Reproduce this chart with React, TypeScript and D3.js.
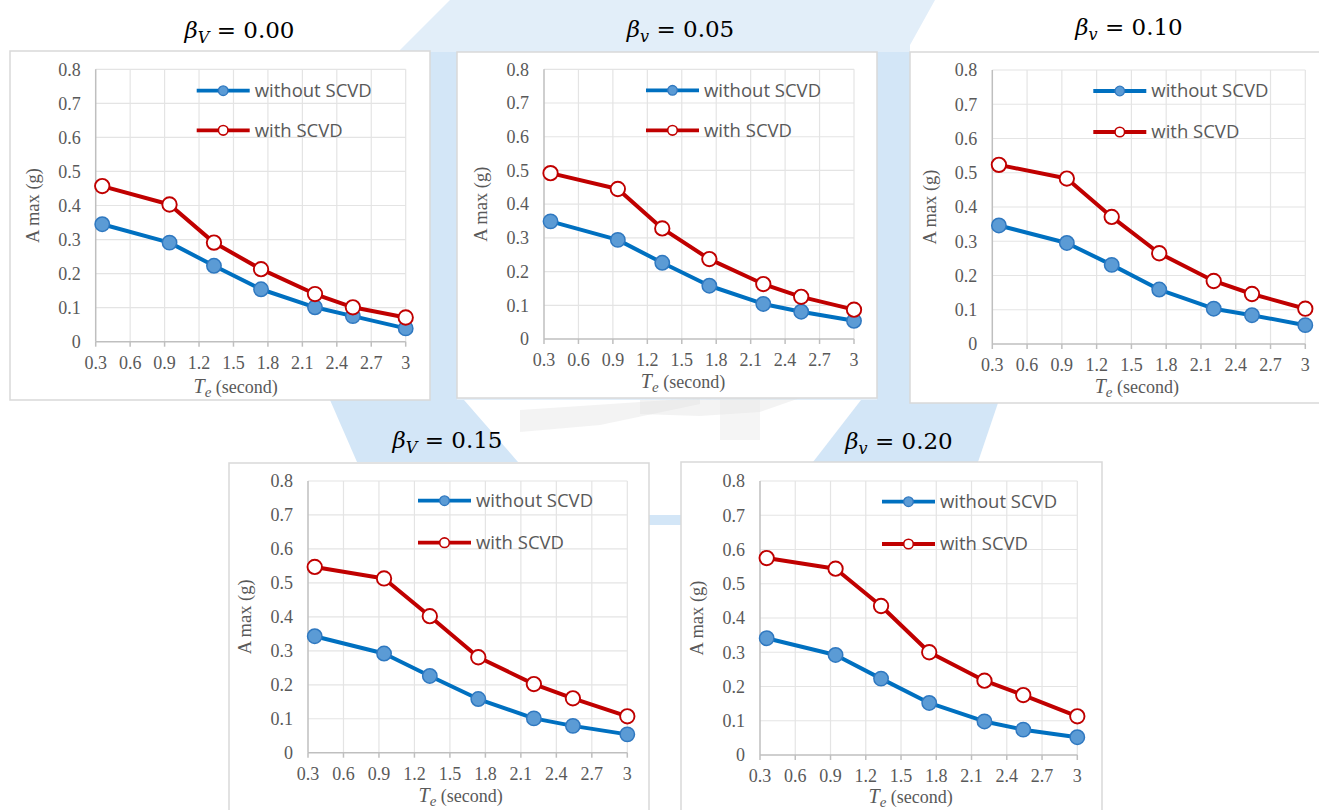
import React from "react";
import * as d3 from "d3";

// ---------- data ----------
const periods = [0.357, 0.943, 1.33, 1.74, 2.21, 2.54, 3.0];
const titleValues = ["0.00", "0.05", "0.10", "0.15", "0.20"];
const titleSubs = ["V", "v", "v", "V", "v"];
const seriesNames = ["without SCVD", "with SCVD"];
const withoutSCVD = [
  [0.345, 0.291, 0.223, 0.154, 0.101, 0.075, 0.039],
  [0.349, 0.294, 0.226, 0.158, 0.104, 0.081, 0.054],
  [0.346, 0.295, 0.231, 0.159, 0.103, 0.084, 0.055],
  [0.343, 0.292, 0.226, 0.158, 0.101, 0.079, 0.054],
  [0.341, 0.292, 0.223, 0.152, 0.098, 0.074, 0.052],
];
const withSCVD = [
  [0.457, 0.403, 0.291, 0.213, 0.14, 0.101, 0.071],
  [0.492, 0.445, 0.328, 0.237, 0.163, 0.125, 0.087],
  [0.523, 0.483, 0.371, 0.265, 0.184, 0.146, 0.103],
  [0.547, 0.513, 0.402, 0.281, 0.202, 0.16, 0.107],
  [0.575, 0.544, 0.435, 0.3, 0.217, 0.175, 0.113],
];
const xTicks = [0.3, 0.6, 0.9, 1.2, 1.5, 1.8, 2.1, 2.4, 2.7, 3];
const yTicks = [0, 0.1, 0.2, 0.3, 0.4, 0.5, 0.6, 0.7, 0.8];
const xTitle = "(second)";
const yTitle = "A max (g)";

// ---------- layout ----------
const layouts = [
  { bx: 10, by: 51, bw: 420, bh: 349, px: 95.7, py: 69.3, pw: 310, ph: 272.4, tx: 239.5, ty: 38, lx: 101, ly1: 21.4, ly2: 61, xl: -15, xb: 51 },
  { bx: 457, by: 52, bw: 420, bh: 346, px: 544, py: 69.3, pw: 310, ph: 269.7, tx: 680.5, ty: 36.7, lx: 102, ly1: 21, ly2: 61, xl: -16, xb: 49 },
  { bx: 910, by: 52, bw: 420, bh: 351, px: 992.3, py: 70, pw: 313, ph: 274, tx: 1129, ty: 35, lx: 101, ly1: 21, ly2: 62, xl: -12, xb: 49 },
  { bx: 229, by: 463, bw: 420, bh: 360, px: 308, py: 481, pw: 319.3, ph: 271.7, tx: 447.5, ty: 448.3, lx: 110, ly1: 19.7, ly2: 61.7, xl: -7, xb: 49 },
  { bx: 681, by: 462, bw: 421, bh: 360, px: 760, py: 481, pw: 317.3, ph: 274, tx: 899, ty: 449.3, lx: 122, ly1: 20.7, ly2: 63, xl: -8, xb: 48 },
];

const BLUE_LINE = "#0070C0";
const BLUE_FILL = "#5B9BD5";
const BLUE_EDGE = "#2F78C0";
const RED = "#C00000";
const GRID = "#E4E4E4";
const AXIS = "#BFBFBF";
const TEXT = "#595959";
const WM = "#D3E6F7";
const WM_LIGHT = "#E2EEF9";
const SERIF = "'Liberation Serif', 'Times New Roman', serif";
const MATH = "'DejaVu Serif', serif";
const SANS = "'Open Sans', 'Noto Sans', sans-serif";

function Panel({ i }: { i: number }) {
  const L = layouts[i];
  const x = d3.scaleLinear().domain([0.3, 3]).range([L.px, L.px + L.pw]);
  const y = d3.scaleLinear().domain([0, 0.8]).range([L.py + L.ph, L.py]);
  const line = d3
    .line<number>()
    .x((_, k) => x(periods[k]))
    .y((d) => y(d));
  const clipId = `clip${i}`;
  const y0 = y(0);
  const legX = L.px + L.lx;
  const legW = 53;
  return (
    <g>
      <defs>
        <clipPath id={clipId}>
          <rect x={L.bx} y={L.by} width={L.bw} height={L.bh} />
        </clipPath>
      </defs>
      {/* title */}
      <text x={L.tx} y={L.ty} textAnchor="middle" fontFamily={MATH} fontSize={23} fill="#000">
        <tspan fontStyle="italic">β</tspan>
        <tspan fontStyle="italic" fontSize={16} dy={5}>{titleSubs[i]}</tspan>
        <tspan dy={-5}>{"  =  " + titleValues[i]}</tspan>
      </text>
      <rect x={L.bx} y={L.by} width={L.bw} height={L.bh} fill="#fff" stroke="#D9D9D9" strokeWidth={1.5} />
      <g clipPath={`url(#${clipId})`}>
        {/* grid */}
        {yTicks.slice(1).map((t) => (
          <line key={"gy" + t} x1={L.px} x2={L.px + L.pw} y1={y(t)} y2={y(t)} stroke={GRID} strokeWidth={1.2} />
        ))}
        {xTicks.slice(1).map((t) => (
          <line key={"gx" + t} x1={x(t)} x2={x(t)} y1={L.py} y2={y0} stroke={GRID} strokeWidth={1.2} />
        ))}
        {/* axes */}
        <line x1={L.px} x2={L.px} y1={L.py} y2={y0} stroke={AXIS} strokeWidth={1.5} />
        <line x1={L.px} x2={L.px + L.pw} y1={y0} y2={y0} stroke={AXIS} strokeWidth={1.5} />
        {xTicks.map((t) => (
          <line key={"tx" + t} x1={x(t)} x2={x(t)} y1={y0} y2={y0 + 5} stroke={AXIS} strokeWidth={1.5} />
        ))}
        {/* tick labels */}
        {xTicks.map((t) => (
          <text key={"lx" + t} x={x(t)} y={y0 + 27} textAnchor="middle" fontFamily={SERIF} fontSize={18} fill={TEXT}>
            {d3.format("~g")(t)}
          </text>
        ))}
        {yTicks.map((t) => (
          <text key={"ly" + t} x={L.px - 15} y={y(t)} dy="0.35em" textAnchor="end" fontFamily={SERIF} fontSize={18} fill={TEXT}>
            {d3.format("~g")(t)}
          </text>
        ))}
        {/* axis titles */}
        <text
          transform={`translate(${L.px - 63},${L.py + L.ph / 2}) rotate(-90)`}
          textAnchor="middle"
          dy="0.35em"
          fontFamily={SERIF}
          fontSize={18.5}
          fill={TEXT}
        >
          {yTitle}
        </text>
        <text x={L.px + L.pw / 2 + L.xl} y={y0 + L.xb} textAnchor="middle" fontFamily={SERIF} fontSize={18} fill={TEXT}>
          <tspan fontStyle="italic" fontSize={20}>T</tspan>
          <tspan fontStyle="italic" fontSize={15} dy={4}>e</tspan>
          <tspan dy={-4}>{" " + xTitle}</tspan>
        </text>
        {/* legend */}
        <line x1={legX} x2={legX + legW} y1={L.py + L.ly1} y2={L.py + L.ly1} stroke={BLUE_LINE} strokeWidth={3.8} />
        <circle cx={legX + legW / 2} cy={L.py + L.ly1} r={4.8} fill={BLUE_FILL} stroke={BLUE_EDGE} strokeWidth={1.3} />
        <text x={legX + legW + 5} y={L.py + L.ly1} dy="0.35em" fontFamily={SANS} fontSize={18.5} fill={TEXT}>
          {seriesNames[0]}
        </text>
        <line x1={legX} x2={legX + legW} y1={L.py + L.ly2} y2={L.py + L.ly2} stroke={RED} strokeWidth={3.8} />
        <circle cx={legX + legW / 2} cy={L.py + L.ly2} r={4.8} fill="#fff" stroke={RED} strokeWidth={1.6} />
        <text x={legX + legW + 5} y={L.py + L.ly2} dy="0.35em" fontFamily={SANS} fontSize={18.5} fill={TEXT}>
          {seriesNames[1]}
        </text>
        {/* series */}
        <path d={line(withoutSCVD[i]) || ""} fill="none" stroke={BLUE_LINE} strokeWidth={4} strokeLinejoin="round" />
        {withoutSCVD[i].map((v, k) => (
          <circle key={"b" + k} cx={x(periods[k])} cy={y(v)} r={7.2} fill={BLUE_FILL} stroke={BLUE_EDGE} strokeWidth={1.5} />
        ))}
        <path d={line(withSCVD[i]) || ""} fill="none" stroke={RED} strokeWidth={4} strokeLinejoin="round" />
        {withSCVD[i].map((v, k) => (
          <circle key={"r" + k} cx={x(periods[k])} cy={y(v)} r={7.2} fill="#fff" stroke={RED} strokeWidth={1.9} />
        ))}
      </g>
    </g>
  );
}

export default function App() {
  React.useEffect(() => {
    document.body.style.margin = "0";
  }, []);
  return (
    <svg
      width={1319}
      height={810}
      viewBox="0 0 1319 810"
      style={{ position: "absolute", left: 0, top: 0, background: "#fff" }}
    >
      {/* faint background watermark */}
      <polygon points="450,0 935,0 910,45 910,400 400,400 400,50" fill={WM_LIGHT} />
      <polygon points="430,52 457,52 457,400 430,400" fill={WM} />
      <polygon points="877,52 910,52 910,403 877,403" fill={WM} />
      <polygon points="330,400 464,400 518,462 357,462" fill={WM} />
      <polygon points="861,400 999,400 978,462 813,462" fill={WM} />
      <rect x={649} y={515} width={32} height={10} fill={WM} />
      <polygon points="520,410 700,398 700,404 600,425 520,432" fill="#E2E2E2" opacity={0.4} />
      <polygon points="640,400 800,398 760,412 700,416 640,414" fill="#E2E2E2" opacity={0.4} />
      <rect x={720} y={398} width={40} height={42} fill="#E6E6E6" opacity={0.4} />
      {layouts.map((_, i) => (
        <Panel key={i} i={i} />
      ))}
    </svg>
  );
}
